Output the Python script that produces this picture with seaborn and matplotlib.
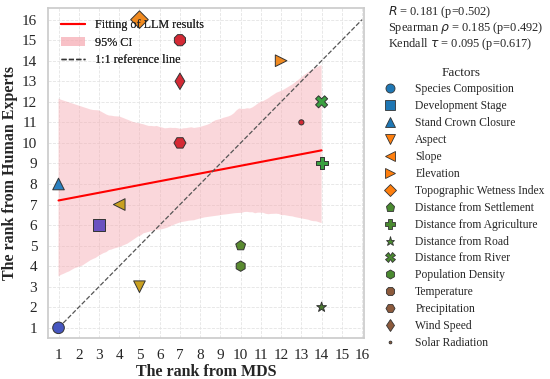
import numpy as np
import pandas as pd
import matplotlib
matplotlib.use("Agg")
import matplotlib.pyplot as plt
from matplotlib.lines import Line2D
from matplotlib.patches import Patch
import seaborn as sns

factors = ["Species Composition", "Development Stage", "Stand Crown Closure",
           "Aspect", "Slope", "Elevation", "Topographic Wetness Index",
           "Distance from Settlement", "Distance from Agriculture",
           "Distance from Road", "Distance from River", "Population Density",
           "Temperature", "Precipitation", "Wind Speed", "Solar Radiation"]
rank_mds = [1, 3, 1, 5, 4, 12, 5, 10, 14, 14, 14, 10, 7, 7, 7, 13]
rank_experts = [1, 6, 8, 3, 7, 14, 16, 5, 9, 2, 12, 4, 15, 10, 13, 11]
stats_lines = ["$R$ = 0.181 (p=0.502)",
               r"Spearman $\rho$ = 0.185 (p=0.492)",
               r"Kendall $\tau$ = 0.095 (p=0.617)"]
ticks = list(range(1, 17))

markers = ["o", "s", "^", "v", "<", ">", "D", "p", "P", "*", "X", "h",
           "8", "H", "d", "."]
plot_colors = ["#4656c0", "#6a52c0", "#2a80c0", "#c9a020", "#c9a020",
               "#f08a20", "#f08a20", "#5a8a30", "#3aa040", "#4a7a30",
               "#3aa040", "#5a8a30", "#d42a35", "#d42a35", "#d42a35",
               "#d42a35"]
legend_colors = ["#1f77b4"] * 3 + ["#ff7f0e"] * 4 + ["#4a8a30"] * 5 + ["#8c5a3c"] * 4
sizes = [70, 70, 70, 70, 70, 70, 80, 55, 75, 55, 75, 55, 75, 75, 70, 55]

df = pd.DataFrame({"factor": factors, "x": rank_mds, "y": rank_experts})

sns.set_theme(style="whitegrid")
plt.rcParams["font.family"] = ["Liberation Serif", "DejaVu Serif"]
plt.rcParams["mathtext.fontset"] = "dejavusans"

fig, ax = plt.subplots(figsize=(5.5, 3.79), dpi=100)
fig.subplots_adjust(left=0.088, right=0.662, top=0.978, bottom=0.108)

# regression with bootstrapped 95% CI
sns.regplot(data=df, x="x", y="y", scatter=False, ci=95, seed=3, n_boot=1000,
            color="red", line_kws={"lw": 1.5}, ax=ax)
for coll in ax.collections:
    coll.set_facecolor("#f6a8b0")
    coll.set_alpha(0.45)
    coll.set_edgecolor("none")

ax.plot([1, 16], [1, 16], ls="--", color="#555555", lw=0.9, zorder=2)

sns.scatterplot(data=df, x="x", y="y", hue="factor", style="factor",
                palette=dict(zip(factors, plot_colors)),
                markers=dict(zip(factors, markers)),
                size="factor", sizes=dict(zip(factors, sizes)),
                edgecolor="#333333", linewidth=0.7, legend=False, zorder=4, ax=ax)

ax.set_xlim(0.5, 16.1)
ax.set_ylim(0.5, 16.55)
ax.set_xticks(ticks)
ax.set_yticks(ticks)
ax.tick_params(labelsize=11, pad=2)
ax.grid(True, ls="--", color="#e4e4e4", lw=0.6)
for sp in ax.spines.values():
    sp.set_color("#cccccc")
ax.set_xlabel("The rank from MDS", fontsize=11.5, fontweight="bold", labelpad=1)
ax.set_ylabel("The rank from Human Experts", fontsize=11.5, fontweight="bold", labelpad=3)

fit_handles = [Line2D([], [], color="red", lw=1.5),
               Patch(facecolor="#f6a8b0", alpha=0.45, edgecolor="none"),
               Line2D([], [], color="#333333", ls="--", lw=1)]
leg1 = ax.legend(fit_handles, ["Fitting of LLM results", "95% CI", "1:1 reference line"],
                 loc="upper left", bbox_to_anchor=(0.005, 1.0), frameon=False,
                 fontsize=8.7, handlelength=2.0, handletextpad=0.8, labelspacing=0.45)
ax.add_artist(leg1)

fac_handles = [Line2D([], [], ls="", marker=m, color=c, markeredgecolor="#333333",
                      markeredgewidth=0.6, markersize=(4 if m == "." else 6.5))
               for m, c in zip(markers, legend_colors)]
fig.legend(fac_handles, factors, title="Factors", loc="upper left",
           bbox_to_anchor=(0.668, 0.852), frameon=False, fontsize=8.4,
           title_fontsize=9.5, labelspacing=0.42, handletextpad=1.2)

fig.text(0.705, 0.99, "\n".join(stats_lines), ha="left", va="top",
         fontsize=8.9, linespacing=1.0)

fig.savefig("out.png", dpi=100)
